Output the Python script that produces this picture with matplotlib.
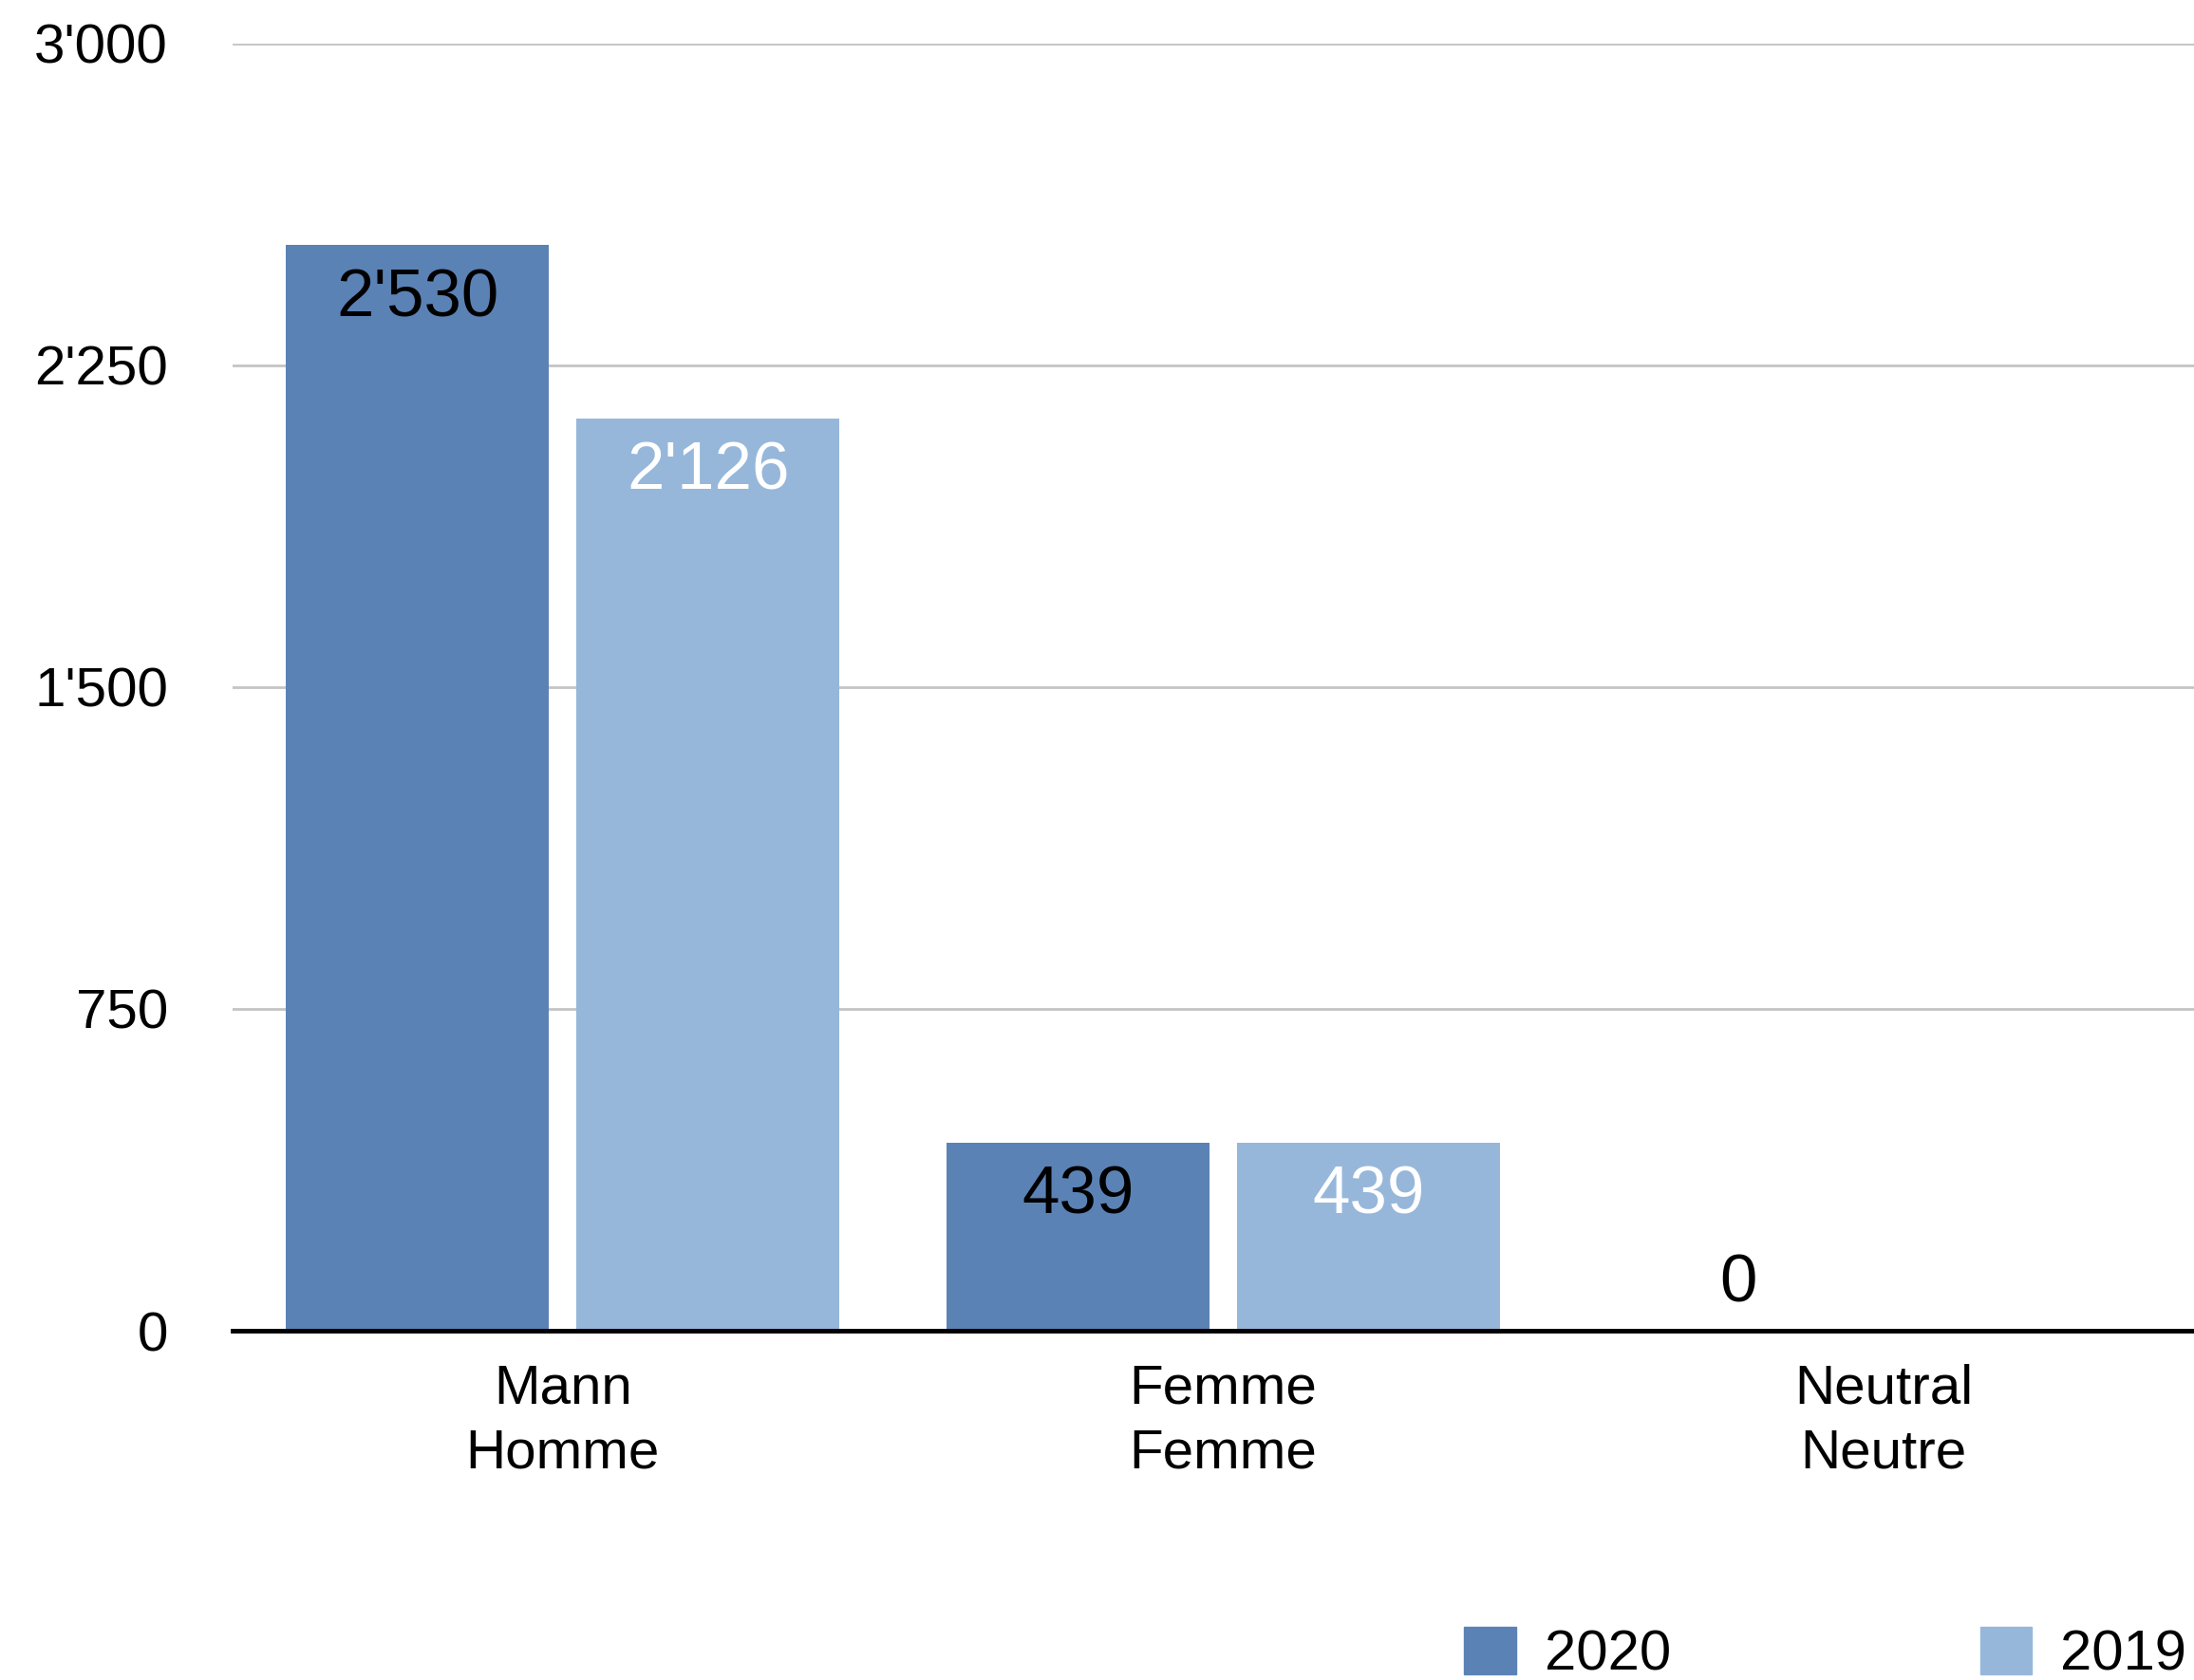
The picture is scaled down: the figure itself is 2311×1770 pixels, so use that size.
import numpy as np
import matplotlib
matplotlib.use('Agg')
import matplotlib.pyplot as plt
from matplotlib.patches import Patch

categories = ['Mann\nHomme', 'Femme\nFemme', 'Neutral\nNeutre']
series_names = ['2020', '2019']
values_2020 = [2530, 439, 0]
values_2019 = [2126, 439, 0]
y_ticks = [0, 750, 1500, 2250, 3000]

col_2020 = '#5b82b5'
col_2019 = '#96b7da'

plt.rcParams['font.family'] = ['Liberation Sans', 'DejaVu Sans']


def fmt(v):
    return f"{v:,}".replace(",", "'")


fig = plt.figure(figsize=(23.11, 17.70), dpi=100)
ax = fig.add_axes([245 / 2311, 1 - 1402 / 1770, 1 - 245 / 2311, (1402 - 45.7) / 1770])

x = np.arange(len(categories))
w = 0.398
off = 0.22
b1 = ax.bar(x - off, values_2020, w, color=col_2020, zorder=2)
b2 = ax.bar(x + off, values_2019, w, color=col_2019, zorder=2)

for bars, vals, tc in [(b1, values_2020, 'black'), (b2, values_2019, 'white')]:
    for r, v in zip(bars, vals):
        dy = -41 if v > 0 else 35
        ax.annotate(fmt(v), (r.get_x() + r.get_width() / 2, v), xytext=(0, dy),
                    textcoords='offset points', ha='center', va='center',
                    fontsize=51, color=tc, zorder=3)

ax.set_ylim(0, 3000)
ax.set_xlim(-0.5, 2.47)
ax.set_yticks(y_ticks)
ax.set_yticklabels([fmt(t) for t in y_ticks])
ax.set_xticks(x)
ax.set_xticklabels(categories, linespacing=1.33)
ax.tick_params(axis='both', length=0, labelsize=42)
ax.tick_params(axis='y', pad=49)
ax.tick_params(axis='x', pad=25)
ax.yaxis.grid(True, color='#c4c4c4', linewidth=2, zorder=0)
ax.set_axisbelow(True)
for s in ['top', 'right', 'left']:
    ax.spines[s].set_visible(False)
ax.spines['bottom'].set_linewidth(3.5)
ax.spines['bottom'].set_color('black')
ax.spines['bottom'].set_zorder(4)

handles = [Patch(color=col_2020), Patch(color=col_2019)]
fig.legend(handles, series_names, loc='upper left', bbox_to_anchor=(1542 / 2311, 1 - 1714 / 1770),
           ncol=2, frameon=False, fontsize=43, borderpad=0, borderaxespad=0,
           handlelength=0.92, handleheight=0.92, handletextpad=0.5, columnspacing=5.45)

fig.savefig('out.png', dpi=100)
